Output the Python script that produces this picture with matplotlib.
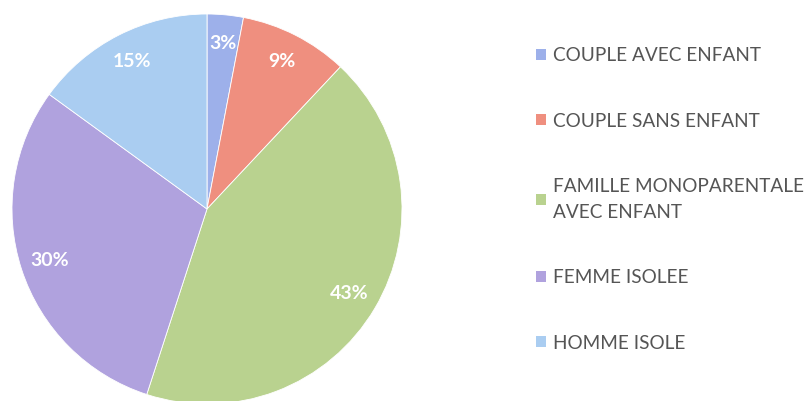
import matplotlib.pyplot as plt
from matplotlib.patches import Patch

categories = [
    "COUPLE AVEC ENFANT",
    "COUPLE SANS ENFANT",
    "FAMILLE MONOPARENTALE\nAVEC ENFANT",
    "FEMME ISOLEE",
    "HOMME ISOLE",
]
shares = [3, 9, 43, 30, 15]
colors = ["#9db0ea", "#ef8f7f", "#b9d28f", "#b0a2de", "#aacdf1"]

W, H = 811, 401
fig = plt.figure(figsize=(W / 100, H / 100), dpi=100)

# pie centre ~ (207, 209) px, radius ~195 px
cx, cy, r = 207, 209, 195
ax = fig.add_axes([(cx - r) / W, (H - cy - r) / H, 2 * r / W, 2 * r / H])
wedges, texts, autotexts = ax.pie(
    shares,
    colors=colors,
    startangle=90,
    counterclock=False,
    autopct="%d%%",
    pctdistance=0.85,
    wedgeprops={"linewidth": 0.6, "edgecolor": "white"},
    textprops={"color": "white", "fontsize": 14, "fontweight": "bold",
               "family": "Lato"},
)
ax.set_xlim(-1, 1)
ax.set_ylim(-1, 1)
ax.set_aspect("equal")

handles = [Patch(facecolor=c, edgecolor="none") for c in colors]
leg = fig.legend(
    handles,
    categories,
    loc="upper left",
    bbox_to_anchor=(519 / W, 1 - 30 / H),
    frameon=False,
    prop={"family": "Lato", "size": 13.7},
    labelcolor="#555555",
    handlelength=0.5,
    handleheight=0.5,
    handletextpad=0.4,
    labelspacing=2.55,
)
for t in leg.get_texts():
    t.set_linespacing(1.6)

fig.savefig("out.png", dpi=100, facecolor="white")
